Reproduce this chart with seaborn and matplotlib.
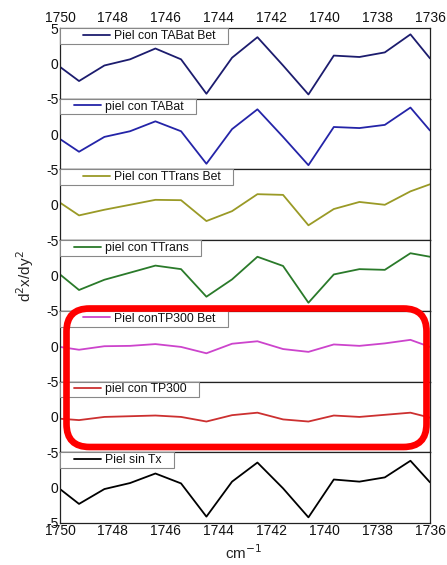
import matplotlib
matplotlib.use("Agg")
import matplotlib.pyplot as plt
from matplotlib.patches import FancyBboxPatch
from matplotlib.legend_handler import HandlerLine2D
from matplotlib.lines import Line2D
import numpy as np
import pandas as pd
import seaborn as sns

# ---- data ----
wavenumber = [1750.0, 1749.28, 1748.32, 1747.35, 1746.39, 1745.42, 1744.46, 1743.49,
              1742.53, 1741.56, 1740.60, 1739.64, 1738.67, 1737.71, 1736.74, 1736.0]

labels = ["Piel con TABat Bet", "piel con TABat", "Piel con TTrans Bet", "piel con TTrans",
          "Piel conTP300 Bet", "piel con TP300", "Piel sin Tx"]
colors = ["#1c1c6e", "#2424a8", "#9a9a26", "#2a7a2a", "#cc44cc", "#cc3030", "#000000"]

tabat_bet = [-0.5, -2.5, -0.3, 0.57, 2.1, 0.57, -4.3, 0.8, 3.7, -0.3, -4.4, 1.1, 0.9, 1.55, 4.1, 0.7]
tabat = [-0.7, -2.5, -0.4, 0.4, 1.8, 0.4, -4.2, 0.7, 3.5, -0.4, -4.4, 1.0, 0.85, 1.3, 3.75, 0.5]
ttrans_bet = [0.3, -1.5, -0.7, 0.0, 0.7, 0.65, -2.3, -0.9, 1.5, 1.4, -2.9, -0.6, 0.4, 0.0, 1.9, 2.9]
ttrans = [0.15, -2.05, -0.6, 0.4, 1.4, 0.9, -3.0, -0.55, 2.65, 1.35, -3.85, 0.15, 0.9, 0.8, 3.15, 2.65]
tp300_bet = [-0.1, -0.5, 0.0, 0.05, 0.3, -0.1, -1.0, 0.35, 0.7, -0.4, -0.8, 0.25, 0.05, 0.4, 0.9, -0.1]
tp300 = [-0.25, -0.45, 0.0, 0.1, 0.2, 0.0, -0.65, 0.25, 0.6, -0.35, -0.65, 0.2, 0.0, 0.3, 0.6, -0.1]
sin_tx = [-0.2, -2.3, -0.2, 0.65, 2.0, 0.6, -4.1, 0.85, 3.55, -0.1, -4.2, 1.15, 0.85, 1.45, 3.8, 0.75]

series = [tabat_bet, tabat, ttrans_bet, ttrans, tp300_bet, tp300, sin_tx]

x_ticks = [1750, 1748, 1746, 1744, 1742, 1740, 1738, 1736]


class RightLineHandler(HandlerLine2D):
    """Legend handle whose line sits only at the right end of the handle box."""
    def __init__(self, seg_pts=19.5, **kw):
        super().__init__(**kw)
        self.seg_pts = seg_pts

    def create_artists(self, legend, orig_handle, xdescent, ydescent, width, height,
                       fontsize, trans):
        arts = super().create_artists(legend, orig_handle, xdescent, ydescent, width,
                                      height, fontsize, trans)
        for a in arts:
            if isinstance(a, Line2D):
                xd = np.asarray(a.get_xdata(), dtype=float)
                if len(xd) >= 2:
                    x1 = xd.max()
                    a.set_xdata(np.linspace(x1 - self.seg_pts, x1, len(xd)))
        return arts


# ---- style ----
sns.set_style("white")
plt.rcParams['font.family'] = ['Liberation Sans', 'DejaVu Sans']
plt.rcParams['axes.unicode_minus'] = False

W, H = 447, 565
fig, axes = plt.subplots(7, 1, sharex=True, figsize=(W / 100, H / 100), dpi=100)
fig.subplots_adjust(left=60 / W, right=430 / W, top=1 - 28 / H, bottom=1 - 523 / H, hspace=0)

for i, (ax, lab, col, vals) in enumerate(zip(axes, labels, colors, series)):
    df = pd.DataFrame({"x": wavenumber, "y": vals})
    sns.lineplot(data=df, x="x", y="y", ax=ax, color=col, lw=1.3,
                 sort=False, estimator=None, legend=False)
    ax.set_xlim(1750, 1736)
    ax.set_ylim(-5, 5)
    ax.set_yticks([-5, 0, 5] if i == 0 else [-5, 0])
    ax.set_ylabel("")
    ax.set_xlabel("")
    for s in ax.spines.values():
        s.set_color("#222222")
        s.set_linewidth(0.9)
    ax.tick_params(axis="both", length=0, labelsize=10, colors="#111111")
    ax.tick_params(axis="y", pad=1)
    handle = ax.get_lines()[0]
    hl = 3.95 if lab.endswith("Bet") else 3.2
    leg = ax.legend([handle], [lab + "   "], loc="upper left", bbox_to_anchor=(0, 1),
                    borderaxespad=0, frameon=True, fancybox=False, framealpha=1,
                    edgecolor="#888888", fontsize=8.8, handlelength=hl,
                    handletextpad=0.35, borderpad=0.15,
                    handler_map={Line2D: RightLineHandler(seg_pts=19.5)})
    leg.get_frame().set_linewidth(0.8)
    for t in leg.get_texts():
        t.set_color("#111111")

axes[0].set_xticks(x_ticks)
axes[0].tick_params(axis="x", labeltop=True, labelbottom=False, pad=2)
for ax in axes[1:-1]:
    ax.tick_params(axis="x", labelbottom=False)
axes[-1].tick_params(axis="x", labelbottom=True, pad=1)

fig.text(25 / W, 1 - 276 / H, r"d$^2$x/dy$^2$", rotation=90, ha="center", va="center", fontsize=11)
fig.text(244 / W, 1 - 553 / H, r"cm$^{-1}$", ha="center", va="center", fontsize=11)

# red highlight box (in inches)
box = FancyBboxPatch((0.665, 1.18), 3.60, 1.385,
                     boxstyle="round,pad=0,rounding_size=0.23",
                     transform=fig.dpi_scale_trans, fill=False,
                     edgecolor="#ff0000", linewidth=4.8, zorder=10)
fig.patches.append(box)

fig.savefig("out.png", dpi=100)
